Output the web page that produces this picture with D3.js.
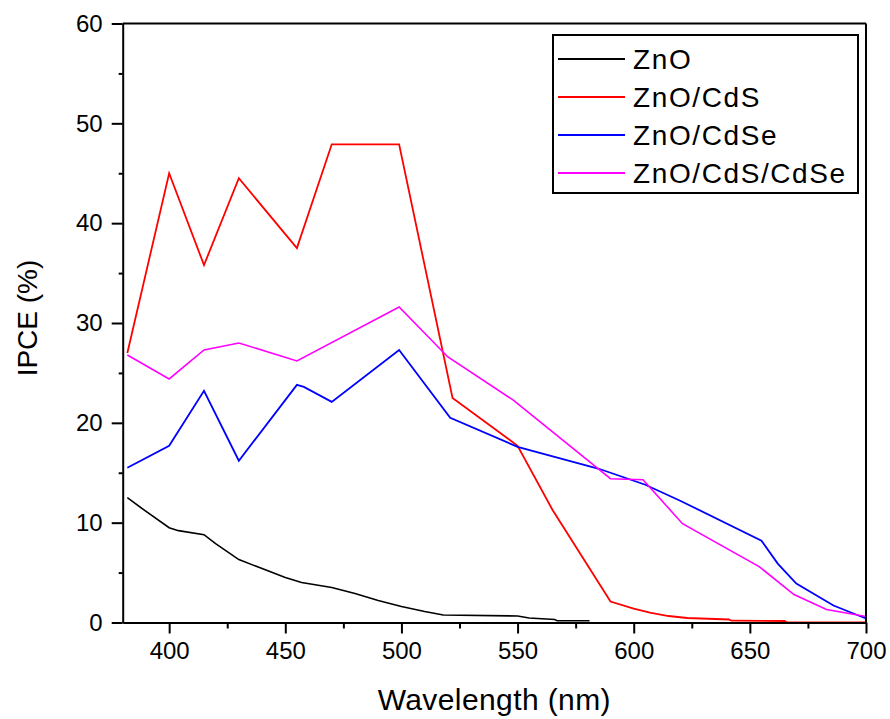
<!DOCTYPE html>
<html>
<head>
<meta charset="utf-8">
<script src="https://cdn.jsdelivr.net/npm/d3@7"></script>
<style>
  html, body { margin: 0; padding: 0; background: #fff; }
  svg { display: block; font-family: "Liberation Sans", Arial, sans-serif; }
</style>
</head>
<body>
<svg id="chart" width="890" height="719"></svg>
<script>
// IPCE spectra (wavelength in nm, IPCE in %)
const seriesNames = ["ZnO", "ZnO/CdS", "ZnO/CdSe", "ZnO/CdS/CdSe"];
const seriesColors = ["#000000", "#ff0000", "#0000ff", "#ff00ff"];

const znoWavelength = [382, 389, 400, 404, 415, 420, 430, 440, 450, 457, 470, 480, 490, 500, 510, 518, 550, 555, 566, 567, 581];
const znoIpce       = [12.5, 11.3, 9.5, 9.2, 8.8, 7.9, 6.3, 5.4, 4.5, 4.0, 3.5, 2.9, 2.2, 1.6, 1.1, 0.75, 0.65, 0.45, 0.3, 0.18, 0.18];

const cdsWavelength = [382, 400, 415, 430, 455, 470, 499, 522, 550, 565, 590, 600, 607, 615, 623, 641, 642, 665, 666, 700];
const cdsIpce       = [27.0, 45.0, 35.8, 44.5, 37.5, 47.9, 47.9, 22.5, 17.7, 11.3, 2.1, 1.4, 1.0, 0.65, 0.45, 0.3, 0.18, 0.15, 0.0, 0.0];

const cdseWavelength = [382, 400, 415, 430, 455, 458, 470, 499, 521, 550, 585, 605, 620, 655, 662, 670, 686, 700];
const cdseIpce       = [15.5, 17.7, 23.2, 16.2, 23.8, 23.6, 22.1, 27.3, 20.5, 17.6, 15.4, 13.8, 12.2, 8.2, 5.9, 3.9, 1.7, 0.4];

const cdsCdseWavelength = [382, 400, 415, 430, 455, 499, 520, 548, 590, 604, 621, 654, 669, 683, 700];
const cdsCdseIpce       = [26.8, 24.4, 27.3, 28.0, 26.2, 31.6, 26.6, 22.3, 14.4, 14.3, 9.9, 5.6, 2.8, 1.3, 0.6];

const xTicks = [400, 450, 500, 550, 600, 650, 700];
const xMinorTicks = [425, 475, 525, 575, 625, 675];
const yTicks = [0, 10, 20, 30, 40, 50, 60];
const yMinorTicks = [5, 15, 25, 35, 45, 55];

const xTitle = "Wavelength (nm)";
const yTitle = "IPCE (%)";

const series = [
  { name: seriesNames[0], color: seriesColors[0], xs: znoWavelength, ys: znoIpce, width: 1.6 },
  { name: seriesNames[1], color: seriesColors[1], xs: cdsWavelength, ys: cdsIpce, width: 1.8 },
  { name: seriesNames[2], color: seriesColors[2], xs: cdseWavelength, ys: cdseIpce, width: 1.8 },
  { name: seriesNames[3], color: seriesColors[3], xs: cdsCdseWavelength, ys: cdsCdseIpce, width: 1.6 }
];

const svg = d3.select("#chart");
const plot = { left: 122.7, right: 866, top: 23.5, bottom: 622.5 };

const x = d3.scaleLinear().domain([380, 700]).range([plot.left, plot.right]);
const y = d3.scaleLinear().domain([0, 60]).range([plot.bottom, plot.top]);

// data lines
const line = d3.line().x(d => x(d[0])).y(d => y(d[1]));
const lines = svg.append("g");
series.forEach(s => {
  lines.append("path")
    .datum(s.xs.map((w, i) => [w, s.ys[i]]))
    .attr("fill", "none")
    .attr("stroke", s.color)
    .attr("stroke-width", s.width)
    .attr("stroke-linejoin", "miter")
    .attr("d", line);
});

// frame (top and right)
svg.append("line")
  .attr("x1", plot.left).attr("x2", plot.right)
  .attr("y1", plot.top).attr("y2", plot.top)
  .attr("stroke", "#000").attr("stroke-width", 2);
svg.append("line")
  .attr("x1", plot.right).attr("x2", plot.right)
  .attr("y1", plot.top).attr("y2", plot.bottom)
  .attr("stroke", "#000").attr("stroke-width", 2);

// bottom axis
svg.append("g").attr("transform", `translate(0,${plot.bottom})`)
  .call(d3.axisBottom(x).tickValues(xTicks).tickSize(11).tickSizeOuter(0).tickPadding(8));
svg.append("g").attr("transform", `translate(0,${plot.bottom})`)
  .call(d3.axisBottom(x).tickValues(xMinorTicks).tickSize(6).tickSizeOuter(0).tickFormat(""))
  .call(g => g.select(".domain").remove());

// left axis
svg.append("g").attr("transform", `translate(${plot.left},0)`)
  .call(d3.axisLeft(y).tickValues(yTicks).tickSize(11).tickSizeOuter(0).tickPadding(9));
svg.append("g").attr("transform", `translate(${plot.left},0)`)
  .call(d3.axisLeft(y).tickValues(yMinorTicks).tickSize(4).tickSizeOuter(0).tickFormat(""))
  .call(g => g.select(".domain").remove());

svg.selectAll(".domain").attr("stroke", "#000").attr("stroke-width", 2);
svg.selectAll(".tick line").attr("stroke", "#000").attr("stroke-width", 2);
svg.selectAll(".tick text")
  .attr("font-family", "'Liberation Sans', Arial, sans-serif")
  .attr("font-size", 24)
  .attr("fill", "#000");

// axis titles
svg.append("text")
  .attr("x", (plot.left + plot.right) / 2)
  .attr("y", 710)
  .attr("text-anchor", "middle")
  .attr("font-size", 30)
  .attr("letter-spacing", 0.4)
  .attr("fill", "#000")
  .text(xTitle);

svg.append("text")
  .attr("transform", `translate(37,318) rotate(-90)`)
  .attr("text-anchor", "middle")
  .attr("font-size", 28)
  .attr("fill", "#000")
  .text(yTitle);

// legend
const legend = svg.append("g");
legend.append("rect")
  .attr("x", 553).attr("y", 35)
  .attr("width", 305).attr("height", 158)
  .attr("fill", "#fff")
  .attr("stroke", "#000").attr("stroke-width", 2);

series.forEach((s, i) => {
  const cy = 59 + i * 38;
  legend.append("line")
    .attr("x1", 558).attr("x2", 625)
    .attr("y1", cy).attr("y2", cy)
    .attr("stroke", s.color).attr("stroke-width", 2);
  legend.append("text")
    .attr("x", 633).attr("y", cy + 10)
    .attr("font-size", 28)
    .attr("letter-spacing", 1.6)
    .attr("fill", "#000")
    .text(s.name);
});
</script>
</body>
</html>
